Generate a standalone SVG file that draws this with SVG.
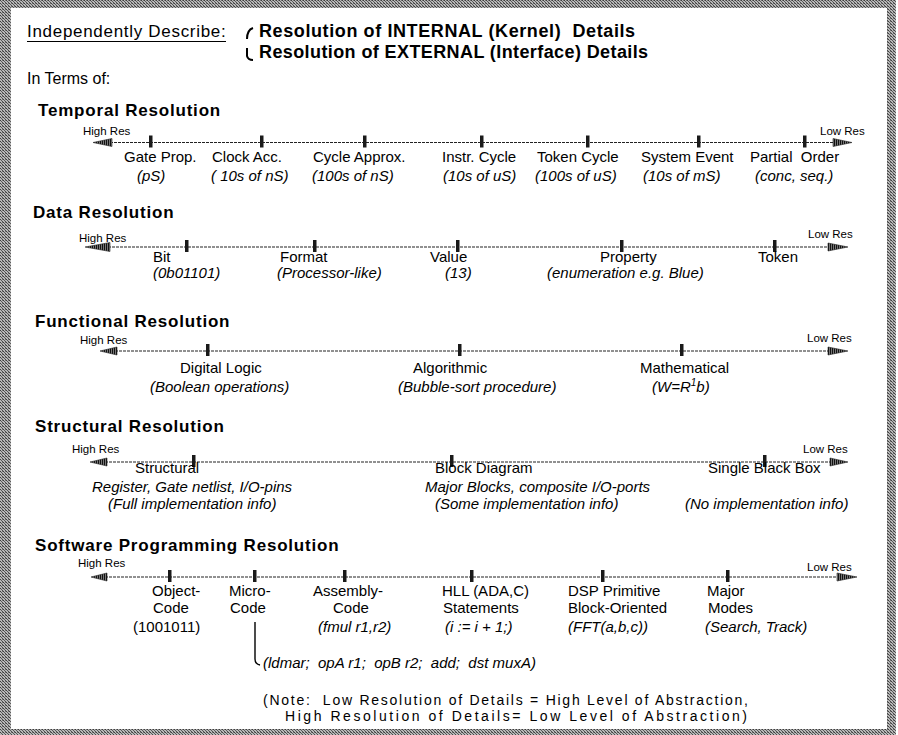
<svg xmlns="http://www.w3.org/2000/svg" width="898" height="735" viewBox="0 0 898 735">
<defs>
<pattern id="stip" width="3" height="3" patternUnits="userSpaceOnUse">
<rect width="3" height="3" fill="#b8b8b8"/>
<rect x="0" y="0" width="1" height="1" fill="#3c3c3c"/>
<rect x="1" y="1" width="1" height="1" fill="#5a5a5a"/>
<rect x="2" y="2" width="1" height="1" fill="#4a4a4a"/>
<rect x="2" y="0" width="1" height="1" fill="#777"/>
</pattern>
<pattern id="hatch" width="2" height="2" patternUnits="userSpaceOnUse">
<rect width="2" height="2" fill="#777"/>
<rect width="1" height="2" fill="#111"/>
</pattern>
</defs>
<style>
.t{font-family:"Liberation Sans",Arial,sans-serif;fill:#000}
.hd{font-size:17px;font-weight:bold;letter-spacing:0.8px}
.lb{font-size:15px}
.it{font-size:15px;font-style:italic}
.sm{font-size:11.5px}
.nt{font-size:14px}
.axis{stroke:#222;stroke-width:1.2;stroke-dasharray:3 1;fill:none}
.ah{fill:url(#hatch);stroke:#222;stroke-width:0.6}
.tick{fill:#1a1a1a}
.br{stroke:#000;stroke-width:1.4;fill:none}
</style>
<rect width="898" height="735" fill="#fff"/>
<path d="M0,0H896V735H0Z M11,8V729H887V8Z" fill="url(#stip)" fill-rule="evenodd"/>

<g id="header">
<text class="t" x="27" y="37" font-size="17" letter-spacing="0.7">Independently Describe:</text>
<line x1="27" y1="41.5" x2="226" y2="41.5" stroke="#000" stroke-width="1.2"/>
<path d="M253,28 Q247,30 247,39" stroke="#000" stroke-width="2" fill="none"/>
<path d="M247,48 L247,56 Q248,60 253,60" stroke="#000" stroke-width="2" fill="none"/>
<text class="t" x="259" y="37" font-size="18" font-weight="bold" letter-spacing="0.6" xml:space="preserve">Resolution of INTERNAL (Kernel)  Details</text>
<text class="t" x="259" y="58" font-size="18" font-weight="bold" letter-spacing="0.4">Resolution of EXTERNAL (Interface) Details</text>
<text class="t" x="27" y="84" font-size="16">In Terms of:</text>
</g>

<g id="connectors">
<!-- Temporal -->
<line class="axis" x1="110" y1="142.5" x2="836" y2="142.5"/>
<polygon class="ah" points="93,142.5 112,138.5 112,146.5"/>
<polygon class="ah" points="852,142.5 833,138.5 833,146.5"/>
<!-- Data -->
<line class="axis" x1="108" y1="247" x2="830" y2="247"/>
<polygon class="ah" points="85,247 110,242.5 110,251.5"/>
<polygon class="ah" points="848,247 828,243 828,251"/>
<!-- Functional -->
<line class="axis" x1="115" y1="351" x2="830" y2="351"/>
<polygon class="ah" points="100,351 117,347 117,355"/>
<polygon class="ah" points="848,351 828,347 828,355"/>
<!-- Structural -->
<line class="axis" x1="105" y1="462" x2="832" y2="462"/>
<polygon class="ah" points="90,462 107,458 107,466"/>
<polygon class="ah" points="848,462 830,458 830,466"/>
<!-- Software -->
<line class="axis" x1="105" y1="577" x2="839" y2="577"/>
<polygon class="ah" points="91,577 107,573 107,581"/>
<polygon class="ah" points="857,577 837,573 837,581"/>
<!-- Micro-code bracket -->
<path class="br" d="M255,622 V659 Q255,664 260,665"/>
</g>

<g id="temporal">
<text class="t hd" x="38" y="116">Temporal Resolution</text>
<text class="t sm" x="83" y="135">High Res</text>
<text class="t sm" x="820" y="135">Low Res</text>
<g id="t-gate"><rect class="tick" x="149" y="135.5" width="3.5" height="12"/><text class="t lb" x="124" y="162">Gate Prop.</text><text class="t it" x="137" y="181">(pS)</text></g>
<g id="t-clock"><rect class="tick" x="260" y="135.5" width="3.5" height="12"/><text class="t lb" x="212" y="162">Clock Acc.</text><text class="t it" x="211" y="181" xml:space="preserve">( 10s of nS)</text></g>
<g id="t-cycle"><rect class="tick" x="363" y="135.5" width="3.5" height="12"/><text class="t lb" x="313" y="162">Cycle Approx.</text><text class="t it" x="312" y="181">(100s of nS)</text></g>
<g id="t-instr"><rect class="tick" x="480" y="135.5" width="3.5" height="12"/><text class="t lb" x="442" y="162">Instr. Cycle</text><text class="t it" x="443" y="181">(10s of uS)</text></g>
<g id="t-token"><rect class="tick" x="586" y="135.5" width="3.5" height="12"/><text class="t lb" x="537" y="162">Token Cycle</text><text class="t it" x="535" y="181">(100s of uS)</text></g>
<g id="t-system"><rect class="tick" x="697" y="135.5" width="3.5" height="12"/><text class="t lb" x="641" y="162">System Event</text><text class="t it" x="643" y="181">(10s of mS)</text></g>
<g id="t-partial"><rect class="tick" x="803" y="135.5" width="3.5" height="12"/><text class="t lb" x="750" y="162" xml:space="preserve">Partial  Order</text><text class="t it" x="755" y="181">(conc, seq.)</text></g>
</g>

<g id="data">
<text class="t hd" x="33" y="218">Data Resolution</text>
<text class="t sm" x="79" y="242">High Res</text>
<text class="t sm" x="808" y="238">Low Res</text>
<g id="d-bit"><rect class="tick" x="185" y="240" width="3.5" height="12"/><text class="t lb" x="153" y="262">Bit</text><text class="t it" x="153" y="278">(0b01101)</text></g>
<g id="d-format"><rect class="tick" x="313" y="240" width="3.5" height="12"/><text class="t lb" x="280" y="262">Format</text><text class="t it" x="277" y="278">(Processor-like)</text></g>
<g id="d-value"><rect class="tick" x="456" y="240" width="3.5" height="12"/><text class="t lb" x="430" y="262">Value</text><text class="t it" x="445" y="278">(13)</text></g>
<g id="d-property"><rect class="tick" x="620" y="240" width="3.5" height="12"/><text class="t lb" x="600" y="262">Property</text><text class="t it" x="547" y="278">(enumeration e.g. Blue)</text></g>
<g id="d-token"><rect class="tick" x="773" y="240" width="3.5" height="12"/><text class="t lb" x="758" y="262">Token</text></g>
</g>

<g id="functional">
<text class="t hd" x="35" y="327">Functional Resolution</text>
<text class="t sm" x="80" y="344">High Res</text>
<text class="t sm" x="807" y="342">Low Res</text>
<g id="f-digital"><rect class="tick" x="206" y="344" width="3.5" height="12"/><text class="t lb" x="180" y="373">Digital Logic</text><text class="t it" x="150" y="392">(Boolean operations)</text></g>
<g id="f-algo"><rect class="tick" x="458" y="344" width="3.5" height="12"/><text class="t lb" x="413" y="373">Algorithmic</text><text class="t it" x="398" y="392">(Bubble-sort procedure)</text></g>
<g id="f-math"><rect class="tick" x="680" y="344" width="3.5" height="12"/><text class="t lb" x="640" y="373">Mathematical</text><text class="t it" x="652" y="392">(W=R<tspan font-size="10" dy="-6">1</tspan><tspan dy="6">b)</tspan></text></g>
</g>

<g id="structural">
<text class="t hd" x="35" y="432">Structural Resolution</text>
<text class="t sm" x="72" y="453">High Res</text>
<text class="t sm" x="803" y="453">Low Res</text>
<g id="s-struct"><rect class="tick" x="192" y="455" width="3.5" height="12"/><text class="t lb" x="135" y="473">Structural</text><text class="t it" x="92" y="492">Register, Gate netlist, I/O-pins</text><text class="t it" x="108" y="509">(Full implementation info)</text></g>
<g id="s-block"><rect class="tick" x="450" y="455" width="3.5" height="12"/><text class="t lb" x="435" y="473">Block Diagram</text><text class="t it" x="425" y="492">Major Blocks, composite I/O-ports</text><text class="t it" x="435" y="509">(Some implementation info)</text></g>
<g id="s-single"><rect class="tick" x="763" y="455" width="3.5" height="12"/><text class="t lb" x="708" y="473">Single Black Box</text><text class="t it" x="685" y="509">(No implementation info)</text></g>
</g>

<g id="software">
<text class="t hd" x="35" y="551">Software Programming Resolution</text>
<text class="t sm" x="78" y="567">High Res</text>
<text class="t sm" x="807" y="571">Low Res</text>
<g id="sw-object"><rect class="tick" x="168" y="570" width="3.5" height="12"/><text class="t lb" x="152" y="596">Object-</text><text class="t lb" x="153" y="613">Code</text><text class="t lb" x="133" y="632">(1001011)</text></g>
<g id="sw-micro"><rect class="tick" x="253" y="570" width="3.5" height="12"/><text class="t lb" x="229" y="596">Micro-</text><text class="t lb" x="230" y="613">Code</text><text class="t it" x="263" y="668" xml:space="preserve">(ldmar;  opA r1;  opB r2;  add;  dst muxA)</text></g>
<g id="sw-asm"><rect class="tick" x="343" y="570" width="3.5" height="12"/><text class="t lb" x="313" y="596">Assembly-</text><text class="t lb" x="333" y="613">Code</text><text class="t it" x="318" y="632">(fmul r1,r2)</text></g>
<g id="sw-hll"><rect class="tick" x="470" y="570" width="3.5" height="12"/><text class="t lb" x="442" y="596">HLL (ADA,C)</text><text class="t lb" x="443" y="613">Statements</text><text class="t it" x="445" y="632">(i := i + 1;)</text></g>
<g id="sw-dsp"><rect class="tick" x="601" y="570" width="3.5" height="12"/><text class="t lb" x="568" y="596">DSP Primitive</text><text class="t lb" x="568" y="613">Block-Oriented</text><text class="t it" x="568" y="632">(FFT(a,b,c))</text></g>
<g id="sw-major"><rect class="tick" x="726" y="570" width="3.5" height="12"/><text class="t lb" x="707" y="596">Major</text><text class="t lb" x="708" y="613">Modes</text><text class="t it" x="705" y="632">(Search, Track)</text></g>
</g>

<g id="note">
<text class="t nt" x="263" y="705" textLength="485" lengthAdjust="spacing" xml:space="preserve">(Note:  Low Resolution of Details = High Level of Abstraction,</text>
<text class="t nt" x="285" y="721" textLength="462" lengthAdjust="spacing">High Resolution of Details= Low Level of Abstraction)</text>
</g>
</svg>
